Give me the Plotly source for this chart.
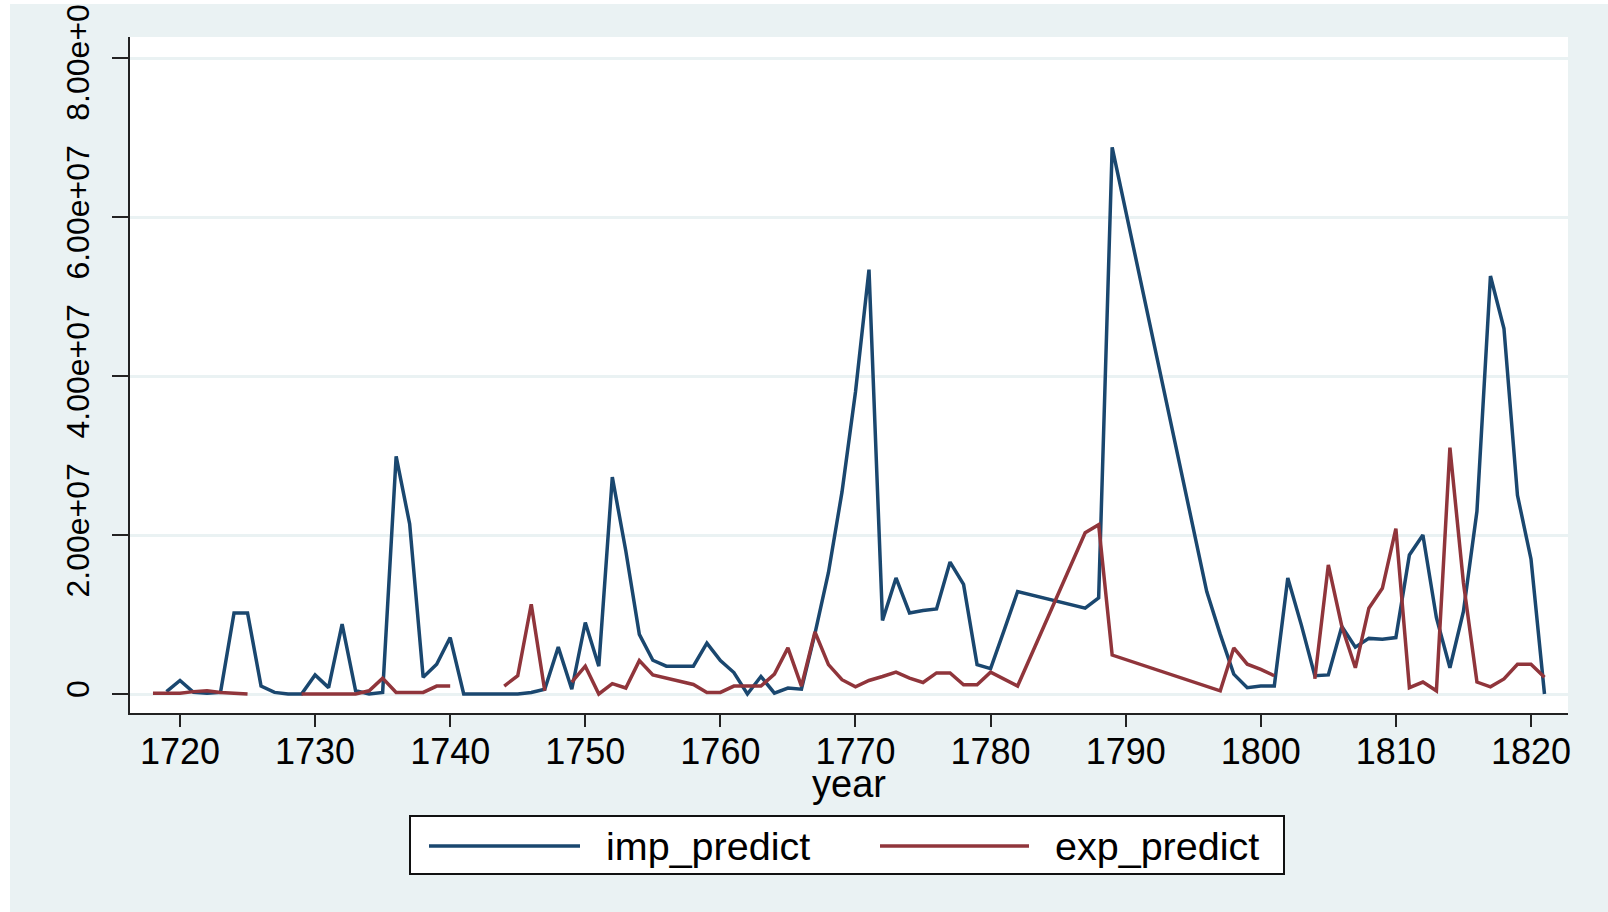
import plotly.graph_objects as go

# ---------------- data (values in units of 1e6) ----------------
imp_years = [1719, 1720, 1721, 1722, 1723, 1724, 1725, 1726, 1727, 1728, 1729,
             1730, 1731, 1732, 1733, 1734, 1735, 1736, 1737, 1738, 1739,
             1740, 1741, 1742, 1743, 1744, 1745, 1746, 1747, 1748, 1749,
             1750, 1751, 1752, 1753, 1754, 1755, 1756, 1757, 1758, 1759,
             1760, 1761, 1762, 1763, 1764, 1765, 1766, 1767, 1768, 1769,
             1770, 1771, 1772, 1773, 1774, 1775, 1776, 1777, 1778, 1779,
             1780, 1781, 1782, 1787, 1788, 1789, 1796, 1797, 1798, 1799,
             1800, 1801, 1802, 1803, 1804, 1805, 1806, 1807, 1808, 1809,
             1810, 1811, 1812, 1813, 1814, 1815, 1816, 1817, 1818, 1819,
             1820, 1821]
imp_values = [0.3, 1.7, 0.2, 0.1, 0.2, 10.2, 10.2, 1.0, 0.2, 0.0, 0.0,
              2.4, 0.8, 8.8, 0.4, 0.0, 0.2, 29.9, 21.4, 2.1, 3.75,
              7.1, 0.0, 0.0, 0.0, 0.0, 0.0, 0.2, 0.6, 5.9, 0.6,
              9.0, 3.5, 27.3, 18.0, 7.5, 4.25, 3.5, 3.5, 3.5, 6.4,
              4.2, 2.7, 0.0, 2.2, 0.1, 0.75, 0.6, 7.6, 15.3, 25.4,
              38.0, 53.4, 9.25, 14.6, 10.2, 10.5, 10.7, 16.6, 13.8, 3.7,
              3.2, 8.0, 12.9, 10.8, 12.1, 68.8, 12.9, 7.5, 2.5, 0.8,
              1.0, 1.0, 14.6, 8.7, 2.3, 2.4, 8.5, 5.9, 7.0, 6.9,
              7.1, 17.5, 20.0, 9.6, 3.3, 10.4, 23.0, 52.6, 46.0, 25.0,
              17.0, 0.0]

exp_years = [1718, 1719, 1720, 1721, 1722, 1723, 1724, 1725, 1726,
             1729, 1730, 1731, 1732, 1733, 1734, 1735, 1736, 1737, 1738,
             1739, 1740, 1741,
             1744, 1745, 1746, 1747, 1748,
             1749, 1750, 1751, 1752, 1753, 1754, 1755, 1756, 1757, 1758,
             1759, 1760, 1761, 1762, 1763, 1764, 1765, 1766, 1767, 1768,
             1769, 1770, 1771, 1772, 1773, 1774, 1775, 1776, 1777, 1778,
             1779, 1780, 1781, 1782, 1787, 1788, 1789, 1797, 1798, 1799,
             1800, 1801, 1802,
             1804, 1805, 1806, 1807, 1808, 1809, 1810, 1811, 1812, 1813,
             1814, 1815, 1816, 1817, 1818, 1819, 1820, 1821]
exp_values = [0.1, 0.1, 0.1, 0.3, 0.4, 0.2, 0.1, 0.0, None,
              0.0, 0.0, 0.0, 0.0, 0.0, 0.4, 2.0, 0.2, 0.2, 0.2,
              1.0, 1.0, None,
              1.0, 2.3, 11.3, 0.4, None,
              1.5, 3.5, 0.0, 1.3, 0.75, 4.2, 2.4, 2.0, 1.6, 1.2,
              0.2, 0.2, 1.0, 1.0, 1.0, 2.5, 5.8, 1.0, 7.8, 3.7,
              1.8, 0.9, 1.7, 2.2, 2.75, 2.0, 1.45, 2.65, 2.65, 1.15,
              1.15, 2.75, 1.9, 1.0, 20.3, 21.3, 4.9, 0.4, 5.8, 3.75,
              3.1, 2.3, None,
              1.9, 16.25, 8.5, 3.3, 10.8, 13.3, 20.8, 0.8, 1.5, 0.4,
              31.0, 14.0, 1.5, 0.9, 1.9, 3.75, 3.75, 2.1]

series_names = ["imp_predict", "exp_predict"]
x_title = "year"
x_tick_vals = [1720, 1730, 1740, 1750, 1760, 1770, 1780, 1790, 1800, 1810, 1820]
y_tick_vals = [0, 2e7, 4e7, 6e7, 8e7]
y_tick_text = ["0", "2.00e+07", "4.00e+07", "6.00e+07", "8.00e+07"]

SCALE = 1e6
NAVY = "#1A476F"
MAROON = "#90353B"
BG = "#EAF2F3"
FONT = "Liberation Sans, Arial, sans-serif"

fig = go.Figure()
fig.add_trace(go.Scatter(
    x=imp_years, y=[v * SCALE if v is not None else None for v in imp_values],
    mode="lines", name=series_names[0],
    line=dict(color=NAVY, width=3.5), connectgaps=False, showlegend=False))
fig.add_trace(go.Scatter(
    x=exp_years, y=[v * SCALE if v is not None else None for v in exp_values],
    mode="lines", name=series_names[1],
    line=dict(color=MAROON, width=3.5), connectgaps=False, showlegend=False))

# plot area in pixels
L, R, T, B = 130, 1568, 37, 713
W, H = 1608, 912
PW, PH = R - L, B - T

def px(x):
    return (x - L) / PW

def py(y):
    return (B - y) / PH

shapes = [
    # white outer border strips (left / top)
    dict(type="rect", xref="paper", yref="paper", x0=px(0), x1=px(10),
         y0=py(H), y1=py(0), fillcolor="white", line=dict(width=0)),
    dict(type="rect", xref="paper", yref="paper", x0=px(0), x1=px(W),
         y0=py(4), y1=py(0), fillcolor="white", line=dict(width=0)),
    # legend box
    dict(type="rect", xref="paper", yref="paper", x0=px(410), x1=px(1284),
         y0=py(874), y1=py(816), fillcolor="white", line=dict(color="#111", width=2)),
    dict(type="line", xref="paper", yref="paper", x0=px(429), x1=px(580),
         y0=py(846), y1=py(846), line=dict(color=NAVY, width=3.5)),
    dict(type="line", xref="paper", yref="paper", x0=px(880), x1=px(1029),
         y0=py(846), y1=py(846), line=dict(color=MAROON, width=3.5)),
]
annotations = [
    dict(text=series_names[0], xref="paper", yref="paper", x=px(604), y=py(846),
         xanchor="left", yanchor="middle", showarrow=False,
         font=dict(family=FONT, size=39.5, color="black")),
    dict(text=series_names[1], xref="paper", yref="paper", x=px(1053), y=py(846),
         xanchor="left", yanchor="middle", showarrow=False,
         font=dict(family=FONT, size=39.5, color="black")),
    dict(text=x_title, xref="paper", yref="paper", x=px(849), y=py(784),
         xanchor="center", yanchor="middle", showarrow=False,
         font=dict(family=FONT, size=38, color="black")),
]

fig.update_layout(
    width=W, height=H,
    margin=dict(l=L, r=W - R, t=T, b=H - B, pad=0, autoexpand=False),
    paper_bgcolor=BG, plot_bgcolor="white",
    shapes=shapes, annotations=annotations,
    showlegend=False,
    xaxis=dict(
        range=[1716.30, 1822.74], tickmode="array", tickvals=x_tick_vals,
        showgrid=False, zeroline=False, automargin=False,
        showline=True, linecolor="#222", linewidth=2,
        ticks="outside", ticklen=12, tickwidth=2, tickcolor="#222",
        ticklabelstandoff=-6,
        tickfont=dict(family=FONT, size=36, color="black"),
    ),
    yaxis=dict(
        range=[-2.391e6, 8.268e7], tickmode="array", tickvals=y_tick_vals,
        ticktext=y_tick_text, tickangle=-90, ticklabeloverflow="allow",
        showgrid=True, gridcolor=BG, gridwidth=3, zeroline=False, automargin=False,
        showline=True, linecolor="#222", linewidth=2,
        ticks="outside", ticklen=16, tickwidth=2, tickcolor="#222",
        ticklabelstandoff=10,
        tickfont=dict(family=FONT, size=32, color="black"),
    ),
)

fig.write_html("out.html", config={"displayModeBar": False},
               post_script="document.body.style.margin='0';")
